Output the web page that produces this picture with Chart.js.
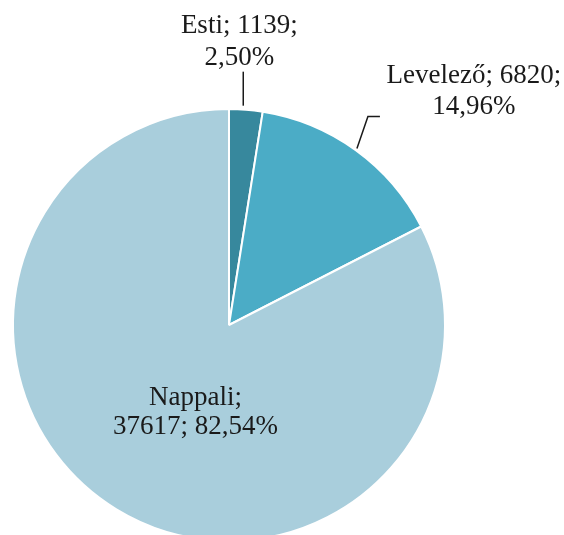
<!DOCTYPE html>
<html>
<head>
<meta charset="utf-8">
<script src="https://cdn.jsdelivr.net/npm/chart.js@4.4.0/dist/chart.umd.min.js"></script>
<style>
  html, body { margin: 0; padding: 0; background: #fff; overflow: hidden; }
  #wrap { width: 564px; height: 535px; overflow: hidden; }
</style>
</head>
<body>
<div id="wrap"><canvas id="pie-chart" width="564" height="545"></canvas></div>
<script>
const categories = ["Esti", "Levelező", "Nappali"];
const values = [1139, 6820, 37617];
const sliceColors = ['#37889D', '#4BACC6', '#A9CEDC'];

function pctText(i) {
    const total = values.reduce((a, b) => a + b, 0);
    return (values[i] / total * 100).toFixed(2).replace('.', ',') + '%';
}

// label lines for each slice (wrapping as in the original)
function labelLines(i) {
    if (i === 2) {
        return [categories[i] + ';', values[i] + '; ' + pctText(i)];
    }
    return [categories[i] + '; ' + values[i] + ';', pctText(i)];
}

const pieLabels = {
    id: 'pieLabels',
    afterDatasetsDraw(chart) {
        const ctx = chart.ctx;
        const arcs = chart.getDatasetMeta(0).data;
        ctx.save();
        ctx.font = '27px "Liberation Serif", "DejaVu Serif", serif';
        ctx.fillStyle = '#1a1a1a';
        ctx.strokeStyle = '#1a1a1a';
        ctx.lineWidth = 1.5;
        ctx.textAlign = 'center';
        ctx.textBaseline = 'alphabetic';

        arcs.forEach((arc, i) => {
            const p = arc.getProps(['x', 'y', 'startAngle', 'endAngle', 'outerRadius']);
            const mid = (p.startAngle + p.endAngle) / 2;
            const lines = labelLines(i);

            if (i === 0) {
                // vertical leader straight up
                const ex = p.x + Math.cos(mid) * (p.outerRadius + 4) - 3;
                const ey = p.y + Math.sin(mid) * (p.outerRadius + 4);
                const top = ey - 34;
                ctx.beginPath();
                ctx.moveTo(ex, ey);
                ctx.lineTo(ex, top);
                ctx.stroke();
                const base2 = top - 7;
                ctx.fillText(lines[0], ex - 4, base2 - 32);
                ctx.fillText(lines[1], ex - 4, base2);
            } else if (i === 1) {
                // elbow leader
                const ex = p.x + Math.cos(mid) * (p.outerRadius + 2);
                const ey = p.y + Math.sin(mid) * (p.outerRadius + 2);
                const bx = ex + 11, by = ey - 32;
                ctx.beginPath();
                ctx.moveTo(ex, ey);
                ctx.lineTo(bx, by);
                ctx.lineTo(bx + 12, by);
                ctx.stroke();
                const cx = bx + 12 + 94;
                const base2 = by - 2;
                ctx.fillText(lines[0], cx, base2 - 31);
                ctx.fillText(lines[1], cx, base2);
            } else {
                // inside label
                const cx = p.x - p.outerRadius * 0.155;
                const base1 = p.y + p.outerRadius * 0.372;
                ctx.fillText(lines[0], cx, base1);
                ctx.fillText(lines[1], cx, base1 + 29);
            }
        });
        ctx.restore();
    }
};

function buildPieChart() {
    const ctx = document.getElementById('pie-chart').getContext('2d');
    return new Chart(ctx, {
        type: 'pie',
        data: {
            labels: categories,
            datasets: [{
                data: values,
                backgroundColor: sliceColors,
                borderColor: '#ffffff',
                borderWidth: 2,
                hoverOffset: 0
            }]
        },
        options: {
            responsive: false,
            animation: false,
            layout: { padding: { left: 12, right: 118, top: 108, bottom: 3 } },
            plugins: {
                legend: { display: false },
                tooltip: { enabled: false }
            }
        },
        plugins: [pieLabels]
    });
}

document.addEventListener('DOMContentLoaded', buildPieChart);
</script>
</body>
</html>
